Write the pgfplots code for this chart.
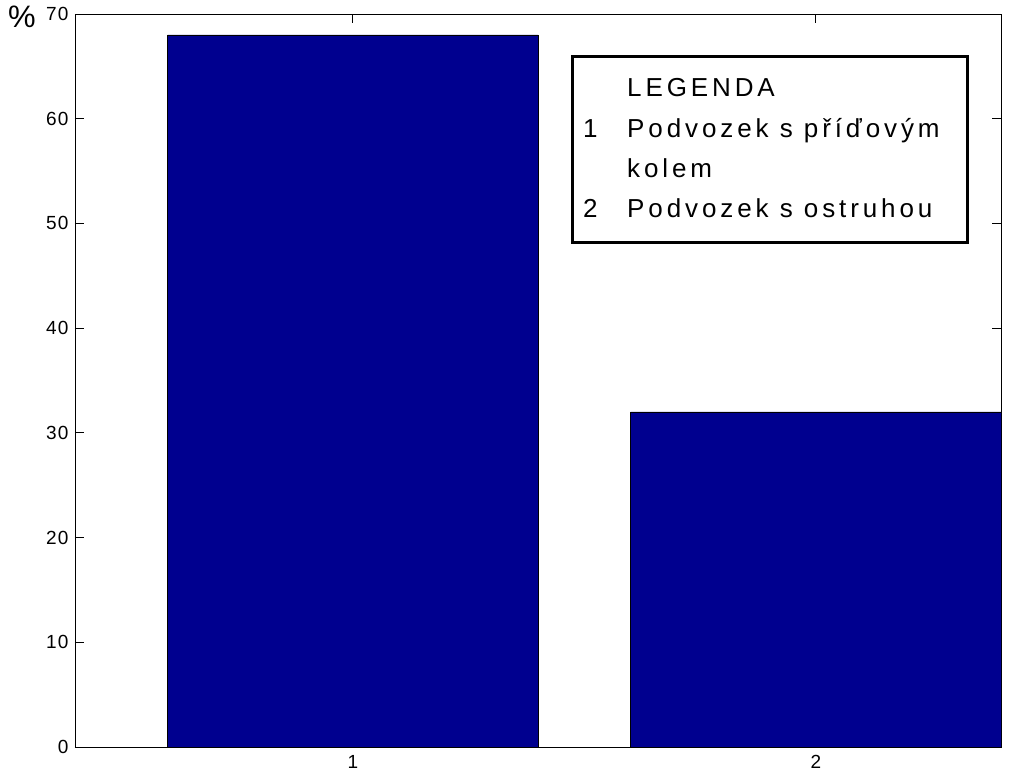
\documentclass[border=0pt]{standalone}
\usepackage{pgfplots}
\pgfplotsset{compat=1.18}
\usepackage{fontspec}
\setmainfont{Liberation Sans}
\newfontfamily\legfont[LetterSpace=15]{Liberation Sans}
\newfontfamily\tickfont[LetterSpace=6]{Liberation Sans}
\definecolor{barblue}{RGB}{0,0,143}
\begin{document}
\begin{tikzpicture}[x=1pt,y=1pt]
\path[use as bounding box] (-75,-33) rectangle (936,747);
\begin{axis}[
  at={(0,0)}, anchor=origin,
  scale only axis,
  width=926pt, height=733pt,
  xmin=0.4, xmax=2.4, ymin=0, ymax=70,
  xtick={1,2}, ytick={0,10,20,30,40,50,60,70},
  tick align=inside,
  major tick length=9pt,
  tick style={black, line width=0.8pt},
  axis line style={black, line width=0.8pt},
  ticklabel style={font=\tickfont\fontsize{19}{22}\selectfont},
  /pgf/number format/assume math mode=true,
  xticklabel style={yshift=-5pt},
  yticklabel style={xshift=-3pt},
  clip=true,
]
\addplot[ybar, bar width=0.8, fill=barblue, draw=black, line width=0.6pt]
  coordinates {(1,68) (2,32)};
\end{axis}
\node[anchor=base west, inner sep=0pt, font=\fontsize{31}{34}\selectfont] at (-67,719) {\%};
\draw[line width=3pt] (497,504) rectangle (892,690);
\begin{scope}[every node/.style={anchor=base west, inner sep=0pt, font=\legfont\fontsize{26}{28}\selectfont}]
\node at (552,650) {LEGENDA};
\node at (508,609) {1};
\node at (552,609) {Podvozek s příďovým};
\node at (552,569) {kolem};
\node at (508,529) {2};
\node at (552,529) {Podvozek s ostruhou};
\end{scope}
\end{tikzpicture}
\end{document}
